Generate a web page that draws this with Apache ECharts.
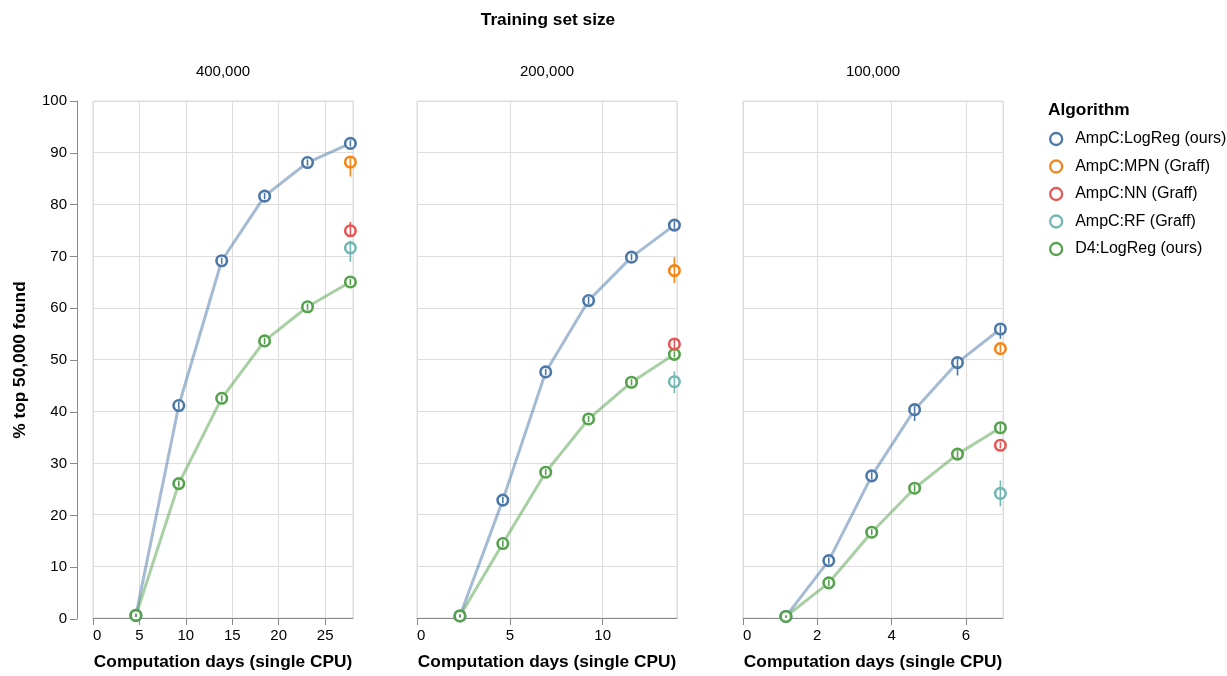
<!DOCTYPE html>
<html>
<head>
<meta charset="utf-8">
<script src="https://cdn.jsdelivr.net/npm/echarts@6/dist/echarts.min.js"></script>
<style>
html, body { margin: 0; padding: 0; background: #fff; }
#chart { width: 1227px; height: 676px; }
</style>
</head>
<body>
<div id="chart"></div>
<script>
// facet headers: training set size
var sizeLabels = ['400,000', '200,000', '100,000'];
var algoNames = ['AmpC:LogReg (ours)', 'AmpC:MPN (Graff)', 'AmpC:NN (Graff)', 'AmpC:RF (Graff)', 'D4:LogReg (ours)'];
var algoColors = ['#4c78a8', '#f58518', '#e45756', '#72b7b2', '#54a24b'];

// computation days (x) per panel
var days400k = [4.62, 9.24, 13.86, 18.48, 23.1, 27.72];
var days200k = [2.31, 4.62, 6.93, 9.24, 11.55, 13.86];
var days100k = [1.155, 2.31, 3.465, 4.62, 5.775, 6.93];
var xMax = [28, 14, 7];
var xStep = [5, 5, 2];

// % top 50,000 found, with error bar low / high
var ampcLogReg400k = [0.5, 41.1, 69.1, 81.6, 88.1, 91.8];
var ampcLogReg400kLo = [0.2, 40.4, 68.5, 81.0, 87.5, 91.2];
var ampcLogReg400kHi = [0.8, 41.8, 69.7, 82.2, 88.7, 92.4];
var d4LogReg400k = [0.5, 26.0, 42.5, 53.6, 60.2, 65.0];
var d4LogReg400kLo = [0.2, 25.4, 41.9, 53.0, 59.6, 64.4];
var d4LogReg400kHi = [0.8, 26.6, 43.1, 54.2, 60.8, 65.6];
// Graff models: MPN, NN, RF (last day only)
var graff400k = [88.2, 74.9, 71.6];
var graff400kLo = [85.4, 73.8, 68.9];
var graff400kHi = [89.2, 76.6, 73.0];

var ampcLogReg200k = [0.4, 22.8, 47.6, 61.4, 69.8, 76.0];
var ampcLogReg200kLo = [0.1, 22.2, 47.0, 60.7, 69.2, 75.3];
var ampcLogReg200kHi = [0.7, 23.4, 48.2, 62.1, 70.4, 76.7];
var d4LogReg200k = [0.4, 14.4, 28.2, 38.5, 45.6, 51.0];
var d4LogReg200kLo = [0.1, 13.8, 27.6, 37.9, 45.0, 50.4];
var d4LogReg200kHi = [0.7, 15.0, 28.8, 39.1, 46.2, 51.6];
var graff200k = [67.2, 53.0, 45.7];
var graff200kLo = [64.8, 52.2, 43.5];
var graff200kHi = [69.8, 53.8, 47.7];

var ampcLogReg100k = [0.3, 11.1, 27.5, 40.3, 49.4, 55.9];
var ampcLogReg100kLo = [0.1, 10.5, 26.8, 38.1, 46.9, 54.0];
var ampcLogReg100kHi = [0.5, 11.7, 28.2, 41.0, 50.2, 56.6];
var d4LogReg100k = [0.3, 6.8, 16.6, 25.1, 31.7, 36.8];
var d4LogReg100kLo = [0.1, 6.2, 16.0, 24.4, 31.0, 36.1];
var d4LogReg100kHi = [0.5, 7.4, 17.2, 25.8, 32.4, 37.5];
var graff100k = [52.1, 33.4, 24.1];
var graff100kLo = [51.4, 32.8, 21.6];
var graff100kHi = [52.8, 34.0, 26.6];

var panels = [
	{ days: days400k, ampc: [ampcLogReg400k, ampcLogReg400kLo, ampcLogReg400kHi], d4: [d4LogReg400k, d4LogReg400kLo, d4LogReg400kHi], graff: [graff400k, graff400kLo, graff400kHi] },
	{ days: days200k, ampc: [ampcLogReg200k, ampcLogReg200kLo, ampcLogReg200kHi], d4: [d4LogReg200k, d4LogReg200kLo, d4LogReg200kHi], graff: [graff200k, graff200kLo, graff200kHi] },
	{ days: days100k, ampc: [ampcLogReg100k, ampcLogReg100kLo, ampcLogReg100kHi], d4: [d4LogReg100k, d4LogReg100kLo, d4LogReg100kHi], graff: [graff100k, graff100kLo, graff100kHi] }
];

var FONT = '"Liberation Sans", Arial, Helvetica, sans-serif';
var gridLeft = [93, 417, 743];
var gridWidth = 260;
var gridTop = 101;
var gridHeight = 518;

function errorBarItem(params, api) {
	var lo = api.coord([api.value(0), api.value(1)]);
	var hi = api.coord([api.value(0), api.value(2)]);
	return {
		type: 'line',
		shape: { x1: lo[0], y1: lo[1], x2: hi[0], y2: hi[1] },
		style: { stroke: api.visual('color'), lineWidth: 1.6 }
	};
}

var grids = [], xAxes = [], yAxes = [], seriesArr = [], graphics = [];
for (var p = 0; p < panels.length; p++) {
	var pan = panels[p];
	grids.push({ left: gridLeft[p], top: gridTop, width: gridWidth, height: gridHeight,
		show: true, borderColor: '#ddd', borderWidth: 1, backgroundColor: 'transparent' });
	xAxes.push({
		gridIndex: p, type: 'value', min: 0, max: xMax[p], interval: xStep[p],
		name: 'Computation days (single CPU)', nameLocation: 'middle', nameGap: 36,
		nameTextStyle: { fontFamily: FONT, fontSize: 17.3, fontWeight: 'bold', color: '#000' },
		axisLine: { onZero: false, lineStyle: { color: '#888', width: 1 } },
		axisTick: { length: 7, lineStyle: { color: '#888' } },
		axisLabel: { fontFamily: FONT, fontSize: 15, color: '#000', margin: 10, showMaxLabel: false, alignMinLabel: 'left' },
		splitLine: { show: true, lineStyle: { color: '#ddd', width: 1 } }
	});
	// panel y axes only give the horizontal grid lines
	yAxes.push({
		gridIndex: p, type: 'value', min: 0, max: 100, interval: 10,
		axisLine: { show: false }, axisTick: { show: false }, axisLabel: { show: false },
		splitLine: { show: true, lineStyle: { color: '#ddd', width: 1 } }
	});

	var lastDay = pan.days[pan.days.length - 1];
	// two LogReg curves: AmpC (0) and D4 (4)
	var curves = [[0, pan.ampc], [4, pan.d4]];
	for (var c = 0; c < curves.length; c++) {
		var ai = curves[c][0], vals = curves[c][1];
		var pts = [], bars = [];
		for (var i = 0; i < pan.days.length; i++) {
			pts.push([pan.days[i], vals[0][i]]);
			bars.push([pan.days[i], vals[1][i], vals[2][i]]);
		}
		seriesArr.push({
			name: algoNames[ai], type: 'line', xAxisIndex: p, yAxisIndex: p, data: pts,
			symbol: 'circle', symbolSize: 10.5, z: 2,
			lineStyle: { color: algoColors[ai], width: 3, opacity: 0.5 },
			itemStyle: { color: '#fff', borderColor: algoColors[ai], borderWidth: 2.6 },
			emphasis: { disabled: true }
		});
		seriesArr.push({
			type: 'custom', xAxisIndex: p, yAxisIndex: p, data: bars, z: 3,
			encode: { x: 0, y: [1, 2] }, itemStyle: { color: algoColors[ai] },
			renderItem: errorBarItem
		});
	}
	// Graff models at the final day
	for (var g = 0; g < 3; g++) {
		var ai2 = g + 1;
		seriesArr.push({
			name: algoNames[ai2], type: 'scatter', xAxisIndex: p, yAxisIndex: p,
			data: [[lastDay, pan.graff[0][g]]], symbol: 'circle', symbolSize: 10.5, z: 2,
			itemStyle: { color: '#fff', borderColor: algoColors[ai2], borderWidth: 2.6, opacity: 1 },
			emphasis: { disabled: true }
		});
		seriesArr.push({
			type: 'custom', xAxisIndex: p, yAxisIndex: p, z: 3,
			data: [[lastDay, pan.graff[1][g], pan.graff[2][g]]],
			encode: { x: 0, y: [1, 2] }, itemStyle: { color: algoColors[ai2] },
			renderItem: errorBarItem
		});
	}
	graphics.push({
		type: 'text', x: gridLeft[p] + gridWidth / 2, y: 72,
		style: { text: sizeLabels[p], font: '15px ' + FONT, fill: '#000', textAlign: 'center', textVerticalAlign: 'middle' }
	});
}

// separate thin grid holding the left y axis, set off from the first panel
grids.push({ left: 77, top: gridTop, width: 10, height: gridHeight, show: false });
xAxes.push({ gridIndex: 3, type: 'value', min: 0, max: 1, show: false });
yAxes.push({
	gridIndex: 3, type: 'value', min: 0, max: 100, interval: 10,
	name: '% top 50,000 found', nameLocation: 'middle', nameGap: 48,
	nameTextStyle: { fontFamily: FONT, fontSize: 17.3, fontWeight: 'bold', color: '#000' },
	axisLine: { show: true, onZero: false, lineStyle: { color: '#888', width: 1 } },
	axisTick: { show: true, length: 7, lineStyle: { color: '#888' } },
	axisLabel: { fontFamily: FONT, fontSize: 15, color: '#000', margin: 10 },
	splitLine: { show: false }
});

graphics.push({
	type: 'text', x: 548, y: 20,
	style: { text: 'Training set size', font: 'bold 17.3px ' + FONT, fill: '#000', textAlign: 'center', textVerticalAlign: 'middle' }
});
graphics.push({
	type: 'text', x: 1048, y: 110,
	style: { text: 'Algorithm', font: 'bold 17.3px ' + FONT, fill: '#000', textAlign: 'left', textVerticalAlign: 'middle' }
});

var legendData = [];
for (var k = 0; k < algoNames.length; k++) {
	legendData.push({ name: algoNames[k], icon: 'circle',
		itemStyle: { color: '#fff', borderColor: algoColors[k], borderWidth: 2.3 } });
}

var myCharts = echarts.init(document.getElementById('chart'));
var option = {
	animation: false,
	backgroundColor: '#fff',
	grid: grids,
	xAxis: xAxes,
	yAxis: yAxes,
	legend: {
		orient: 'vertical', left: 1049, top: 131, padding: 0, itemWidth: 12, itemHeight: 12, itemGap: 11.5,
		data: legendData, selectedMode: false,
		textStyle: { fontFamily: FONT, fontSize: 16, color: '#000', lineHeight: 16, padding: [0, 0, 0, 8] }
	},
	graphic: graphics,
	series: seriesArr
};
myCharts.setOption(option);
</script>
</body>
</html>
